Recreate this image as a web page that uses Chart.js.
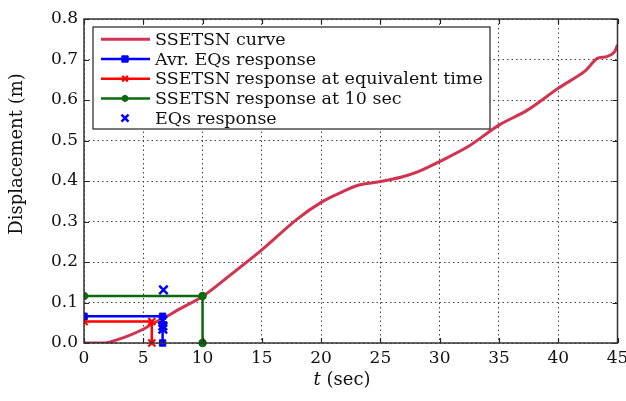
<!DOCTYPE html>
<html><head><meta charset="utf-8">
<script src="https://cdn.jsdelivr.net/npm/chart.js@4.4.0/dist/chart.umd.min.js"></script>
<style>html,body{margin:0;padding:0;background:#fff;} #wrap{width:626px;height:401px;}</style>
</head><body><div id="wrap"><canvas id="c" width="626" height="401"></canvas></div>
<script>
// ---- data ----
const curveT = [0, 1.8, 3.4, 5, 5.7, 6.7, 8, 10, 12, 15, 17.9, 20.1, 22, 23.2, 24.9, 26.8, 28.2, 30, 32.4, 35, 37.4, 40, 42.2, 43.3, 44.1, 44.7, 45];
const curveY = [0, 0, 0.014, 0.034, 0.047, 0.061, 0.083, 0.115, 0.16, 0.23, 0.304, 0.349, 0.376, 0.39, 0.398, 0.41, 0.423, 0.448, 0.485, 0.538, 0.575, 0.629, 0.67, 0.703, 0.707, 0.717, 0.736];
const avgT = [0, 6.63, 6.63];
const avgY = [0.066, 0.066, 0];
const eqTimeT = [0, 5.72, 5.72];
const eqTimeY = [0.053, 0.053, 0];
const tenT = [0, 10, 10];
const tenY = [0.116, 0.116, 0];
const eqT = [6.7, 6.65, 6.65, 6.65];
const eqY = [0.131, 0.056, 0.042, 0.034];
const xTicks = [0, 5, 10, 15, 20, 25, 30, 35, 40, 45];
const yTicks = [0, 0.1, 0.2, 0.3, 0.4, 0.5, 0.6, 0.7, 0.8];
const yTickLabels = ['0.0', '0.1', '0.2', '0.3', '0.4', '0.5', '0.6', '0.7', '0.8'];
const labels = ['SSETSN curve', 'Avr. EQs response', 'SSETSN response at equivalent time', 'SSETSN response at 10 sec', 'EQs response'];
const yTitle = 'Displacement (m)';
const xTitleVar = 't';
const xTitleUnit = ' (sec)';

const pts = (xs, ys) => xs.map((x, i) => ({x: x, y: ys[i]}));
const SERIF = '"DejaVu Serif", "Liberation Serif", serif';
const clipA = {left: 0, top: 0, right: 0, bottom: 6};

const decor = {
  id: 'decor',
  afterDatasetsDraw(chart) {
    const ctx = chart.ctx;
    const x0 = 93, y0 = 27, x1 = 490, y1 = 129, rowH = 19.7, firstY = 39.3;
    ctx.save();
    ctx.fillStyle = '#fff';
    ctx.fillRect(x0, y0, x1 - x0, y1 - y0);
    ctx.strokeStyle = '#222';
    ctx.lineWidth = 1.2;
    ctx.strokeRect(x0, y0, x1 - x0, y1 - y0);
    ctx.font = '17.5px ' + SERIF;
    ctx.textBaseline = 'middle';
    chart.data.datasets.forEach((ds, i) => {
      const cy = firstY + i * rowH;
      if (ds.showLine !== false) {
        ctx.strokeStyle = ds.borderColor;
        ctx.lineWidth = ds.borderWidth;
        ctx.beginPath(); ctx.moveTo(101, cy); ctx.lineTo(150, cy); ctx.stroke();
      }
      if (ds.pointStyle && ds.pointRadius > 0) {
        ctx.fillStyle = ds.pointBackgroundColor || ds.borderColor;
        ctx.strokeStyle = ds.pointBorderColor || ds.borderColor;
        ctx.lineWidth = ds.pointBorderWidth || ds.borderWidth;
        Chart.helpers.drawPoint(ctx, {
          pointStyle: ds.pointStyle, radius: ds.legendRadius || ds.pointRadius, rotation: 0,
          borderWidth: ds.pointBorderWidth || ds.borderWidth
        }, 125, cy);
      }
      ctx.fillStyle = '#111';
      ctx.fillText(ds.label, 155, cy + 1);
    });
    ctx.restore();
  },
  afterDraw(chart) {
    const ctx = chart.ctx, a = chart.chartArea;
    const xs = chart.scales.x, ys = chart.scales.y;
    ctx.save();
    ctx.strokeStyle = '#222';
    ctx.lineWidth = 1.2;
    xTicks.forEach(t => {
      const px = Math.round(xs.getPixelForValue(t)) + 0.5;
      ctx.beginPath(); ctx.moveTo(px, a.bottom); ctx.lineTo(px, a.bottom - 5);
      ctx.moveTo(px, a.top); ctx.lineTo(px, a.top + 5); ctx.stroke();
    });
    yTicks.forEach(v => {
      const py = Math.round(ys.getPixelForValue(v)) + 0.5;
      ctx.beginPath(); ctx.moveTo(a.left, py); ctx.lineTo(a.left + 5, py);
      ctx.moveTo(a.right, py); ctx.lineTo(a.right - 5, py); ctx.stroke();
    });
    ctx.lineWidth = 1.5;
    ctx.strokeStyle = '#333';
    ctx.strokeRect(a.left, a.top, a.right - a.left, a.bottom - a.top);
    // axis titles
    ctx.fillStyle = '#111';
    ctx.textBaseline = 'middle';
    ctx.textAlign = 'center';
    ctx.save();
    ctx.translate(17, 154);
    ctx.rotate(-Math.PI / 2);
    ctx.font = '18px ' + SERIF;
    ctx.fillText(yTitle, 0, 0);
    ctx.restore();
    ctx.font = 'italic 18px ' + SERIF;
    const w1 = ctx.measureText(xTitleVar).width;
    ctx.font = '18px ' + SERIF;
    const w2 = ctx.measureText(xTitleUnit).width;
    const sx = 342 - (w1 + w2) / 2;
    ctx.textAlign = 'left';
    ctx.font = 'italic 18px ' + SERIF;
    ctx.fillText(xTitleVar, sx, 380);
    ctx.font = '18px ' + SERIF;
    ctx.fillText(xTitleUnit, sx + w1, 380);
    ctx.restore();
  }
};

new Chart(document.getElementById('c'), {
  type: 'line',
  data: {
    datasets: [
      {label: labels[0], data: pts(curveT, curveY), borderColor: '#d2334f', borderWidth: 3, pointRadius: 0, tension: 0.3, order: 2, clip: 0},
      {label: labels[1], data: pts(avgT, avgY), borderColor: '#0000ff', backgroundColor: '#0000ff', borderWidth: 2.5, pointStyle: 'rect', pointRadius: 4.5, pointBackgroundColor: '#0000ff', pointBorderColor: '#0000ff', pointBorderWidth: 1, tension: 0, order: 1, clip: clipA},
      {label: labels[2], data: pts(eqTimeT, eqTimeY), borderColor: '#ff0000', backgroundColor: '#ff0000', borderWidth: 2.5, pointStyle: 'crossRot', pointRadius: 5, legendRadius: 4, pointBorderColor: '#ff0000', pointBorderWidth: 2.2, tension: 0, order: 1, clip: clipA},
      {label: labels[3], data: pts(tenT, tenY), borderColor: '#0b6a0b', backgroundColor: '#0b6a0b', borderWidth: 2.5, pointStyle: 'circle', pointRadius: 3.8, legendRadius: 3, pointBackgroundColor: '#0b6a0b', pointBorderColor: '#0b6a0b', pointBorderWidth: 1, tension: 0, order: 1, clip: clipA},
      {label: labels[4], data: pts(eqT, eqY), borderColor: '#0000ff', backgroundColor: '#0000ff', borderWidth: 2.5, showLine: false, pointStyle: 'crossRot', pointRadius: 6, legendRadius: 5, pointBorderColor: '#0000ff', pointBorderWidth: 2.5, order: 0, clip: clipA}
    ]
  },
  options: {
    responsive: false,
    animation: false,
    devicePixelRatio: 1,
    layout: {padding: {left: 0, top: 19, right: 5, bottom: 0}},
    plugins: {legend: {display: false}, tooltip: {enabled: false}},
    scales: {
      x: {
        type: 'linear', min: 0, max: 45,
        afterBuildTicks: s => { s.ticks = xTicks.map(v => ({value: v})); },
        afterFit: s => { s.height = 58; s.paddingLeft = 0; s.paddingRight = 0; },
        grid: {color: '#444', lineWidth: 1, drawTicks: false},
        border: {display: false, dash: [1.5, 3]},
        ticks: {color: '#111', font: {family: SERIF, size: 17}, padding: 5, maxRotation: 0},
        title: {display: false}
      },
      y: {
        min: 0, max: 0.8,
        afterBuildTicks: s => { s.ticks = yTicks.map(v => ({value: v})); },
        afterFit: s => { s.width = 84; s.paddingTop = 0; s.paddingBottom = 0; },
        grid: {color: '#444', lineWidth: 1, drawTicks: false},
        border: {display: false, dash: [1.5, 3]},
        ticks: {color: '#111', font: {family: SERIF, size: 17}, padding: 6, callback: (v, i) => yTickLabels[i]},
        title: {display: false}
      }
    }
  },
  plugins: [decor]
});
</script></body></html>
